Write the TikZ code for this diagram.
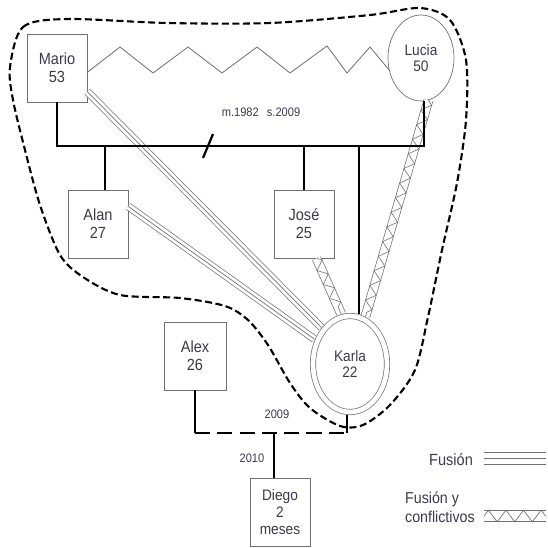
\documentclass[tikz,border=0pt]{standalone}
\usepackage{fontspec}
\setmainfont{Liberation Sans}[FakeStretch=0.9]
\usetikzlibrary{shapes.geometric,decorations.pathmorphing}
\definecolor{inkgray}{HTML}{3A3A4A}
\definecolor{linegray}{HTML}{707070}
\newcommand{\bigtxt}{\fontsize{13.8}{15.3}\selectfont}
\newcommand{\midtxt}{\fontsize{13}{14.2}\selectfont}
\newcommand{\smalltxt}{\fontsize{10.5}{12}\selectfont}

\begin{document}
\begin{tikzpicture}[x=0.03cm,y=-0.03cm,
  man/.style={draw=linegray,line width=.6pt,minimum width=1.8cm,minimum height=2.04cm,inner sep=0pt,align=center,text=inkgray,font=\bigtxt},
  woman/.style={ellipse,draw=linegray,line width=.6pt,inner sep=0pt,align=center,text=inkgray,font=\midtxt},
  kin/.style={line width=1.9pt,black},
  fusion/.style={preaction={draw=linegray,line width=.6pt,double=white,double distance=5.4pt},postaction={draw=linegray,line width=.6pt}},
  conflict/.style={preaction={draw=linegray,line width=.6pt,double=white,double distance=7pt},postaction={draw=linegray,line width=.5pt,decorate,decoration={zigzag,amplitude=3.8pt,segment length=13pt}}},
  keyline/.style={draw=linegray,line width=.8pt},
  lbl/.style={text=inkgray,font=\smalltxt}]
\useasboundingbox (0,0) rectangle (547,548);

\draw[line width=1.8pt,dash pattern=on 6pt off 3pt] plot[smooth cycle] coordinates {
  (10,67) (23,27) (67,19) (167,23) (270,23) (370,15) (420,8) (450,20) (466,60)
  (466,120) (457,183) (442,250) (428,317) (415,370) (390,405) (363,425) (340,426)
  (310,408) (290,383) (268,345) (248,320) (225,306) (180,298) (120,295) (83,277)
  (60,255) (40,205) (25,150) (13,100)};

\node[man] (mario) at (57,68) {Mario\\53};
\node[woman,minimum width=1.98cm,minimum height=2.58cm] (lucia) at (421,58) {Lucia\\50};
\node[man] (alan) at (98,224) {Alan\\27};
\node[man] (jose) at (304,224) {José\\25};
\node[woman,double=white,double distance=4pt,outer sep=3pt,minimum width=2.22cm,minimum height=2.88cm] (karla) at (350,364) {Karla\\22};
\node[man,minimum width=1.86cm] (alex) at (195,356) {Alex\\26};
\node[man,font=\midtxt] (diego) at (280,512) {Diego\\2\\meses};

\coordinate (bar) at (0,146);
\coordinate (union) at (0,433);
\coordinate (sep) at (208,146);

\draw[linegray,line width=.7pt] (mario.-8) -- (120,47) -- (153,73) -- (188,47) -- (222,73) -- (257,47)
  -- (290,73) -- (327,46) -- (347,73) -- (370,47) -- (lucia.200);

\path[fusion] (mario.-38) -- (karla.128);
\path[fusion] (alan.30) -- (karla.145);
\path[conflict] (jose.-70) -- (karla.100);
\path[conflict] (lucia.-80) -- (karla.72);

\draw[kin] (mario.south) -- (mario.south |- bar) -- (lucia.-86 |- bar) -- (lucia.-86);
\draw[kin] ([shift={(-5,12)}]sep) -- ([shift={(5,-12)}]sep);
\draw[kin] ([xshift=6pt]alan.north) -- ([xshift=6pt]alan.north |- bar);
\draw[kin] (jose.north) -- (jose.north |- bar);
\draw[kin] (karla.80) -- (karla.80 |- bar);
\node[lbl] (marriage) at (261,112) {m.1982\hspace{7pt}s.2009};

\draw[kin] (alex.south) -- (alex.south |- union);
\draw[kin,dash pattern=on 13pt off 6pt] (alex.south |- union) -- (karla.-93 |- union);
\draw[kin] (karla.-93) -- (karla.-93 |- union);
\draw[kin] ([xshift=-5pt]diego.north) -- ([xshift=-5pt]diego.north |- union);
\node[lbl] (unionyear) at (277,414) {2009};
\node[lbl] (birthyear) at (252,458) {2010};

\node[anchor=east,text=inkgray,font=\bigtxt] (fusionkey) at (477,460) {Fusión};
\coordinate (fusionA) at (484,458.5);
\coordinate (fusionB) at (546,458.5);
\foreach \dy in {-4.8pt,0pt,4.8pt}
  \draw[keyline] ([yshift=\dy]fusionA) -- ([yshift=\dy]fusionB);

\node[anchor=west,align=left,text=inkgray,font=\fontsize{13.5}{16}\selectfont] (conflictkey) at (401,507) {Fusión y\\conflictivos};
\coordinate (conflictA) at (484,516);
\coordinate (conflictB) at (546,516);
\foreach \dy in {-5pt,5pt}
  \draw[keyline] ([yshift=\dy]conflictA) -- ([yshift=\dy]conflictB);
\draw[linegray,line width=.6pt,decorate,decoration={zigzag,amplitude=5pt,segment length=15pt}] (conflictA) -- (conflictB);

\end{tikzpicture}
\end{document}
